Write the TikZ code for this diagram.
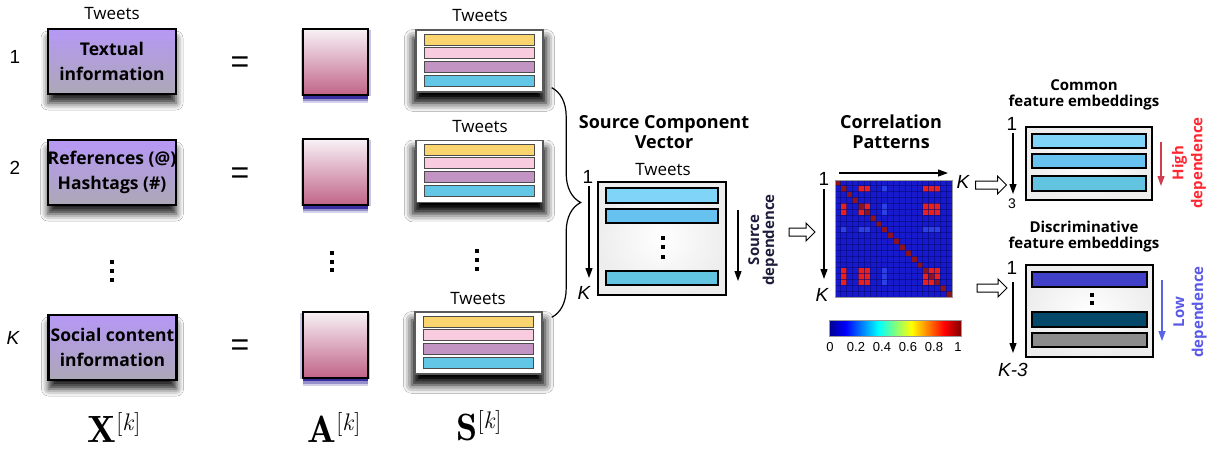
\documentclass[tikz,border=0pt]{standalone}
\usepackage[no-math]{fontspec}
\setmainfont{Open Sans}
\newfontfamily\hv{Liberation Sans}
\usetikzlibrary{arrows.meta,shadows.blur,shapes.arrows,decorations.pathreplacing,calc}

\definecolor{xtop}{RGB}{182,152,246}
\definecolor{xbot}{RGB}{172,168,182}
\definecolor{atop}{RGB}{248,242,246}
\definecolor{abot}{RGB}{192,100,136}
\definecolor{glow}{RGB}{36,24,150}
\definecolor{syel}{RGB}{250,212,110}
\definecolor{spnk}{RGB}{248,204,222}
\definecolor{spur}{RGB}{194,148,196}
\definecolor{sblu}{RGB}{98,198,230}
\definecolor{lb1}{RGB}{128,212,248}
\definecolor{lb2}{RGB}{104,194,240}
\definecolor{lb3}{RGB}{98,196,224}
\definecolor{db1}{RGB}{64,64,200}
\definecolor{db2}{RGB}{4,72,106}
\definecolor{db3}{RGB}{140,140,140}
\definecolor{mblue}{RGB}{22,26,204}
\definecolor{mlight}{RGB}{44,64,228}
\definecolor{mgrid}{RGB}{10,10,120}
\definecolor{mred}{RGB}{232,32,30}
\definecolor{mdark}{RGB}{140,20,30}
\definecolor{jdb}{RGB}{0,0,143}
\definecolor{jdr}{RGB}{128,0,0}
\definecolor{hired}{RGB}{255,40,50}
\definecolor{hiarr}{RGB}{208,60,80}
\definecolor{lowtxt}{RGB}{90,90,230}
\definecolor{lowarr}{RGB}{90,100,230}
\definecolor{srcdep}{RGB}{30,30,60}

% jet colour map (path shadings use the middle half of the declared width)
\pgfdeclarehorizontalshading{jet}{100bp}{color(0bp)=(jdb); color(25bp)=(jdb); color(31.25bp)=(blue); color(43.75bp)=(cyan); color(56.25bp)=(yellow); color(68.75bp)=(red); color(75bp)=(jdr); color(100bp)=(jdr)}

% bold letter with a bracketed superscript index
\newcommand{\blocksym}[1]{{\fontfamily{lmr}\selectfont\bfseries #1\raisebox{12pt}{\fontsize{24}{24}\selectfont\mdseries[\textit{k}]}}}

\begin{document}
\begin{tikzpicture}[x=1pt,y=-1pt,
  lbl/.style={font=\fontsize{17}{20}\selectfont, inner sep=0pt},
  num/.style={font=\hv\fontsize{19}{20}\selectfont, inner sep=0pt},
  knum/.style={font=\hv\itshape\fontsize{19}{20}\selectfont, inner sep=0pt},
  title/.style={font=\bfseries\fontsize{18}{20}\selectfont, align=center, inner sep=0pt},
  subtitle/.style={font=\bfseries\fontsize{15}{16}\selectfont, align=center, inner sep=0pt},
  sidetext/.style={font=\bfseries\fontsize{15}{15}\selectfont, align=center, inner sep=0pt, rotate=90},
  xbox/.style={draw=black, line width=2.4pt, top color=xtop, bottom color=xbot,
    minimum width=128pt, minimum height=65pt, inner sep=0pt, align=center,
    font=\bfseries\fontsize{17.5}{25}\selectfont,
    blur shadow={shadow xshift=0pt, shadow yshift=-9pt, shadow scale=1.0, shadow blur radius=7pt, shadow opacity=85}},
  abox/.style={draw=black, line width=2pt, top color=atop, bottom color=abot,
    minimum width=65pt, minimum height=66pt, inner sep=0pt,
    preaction={fill=glow, fill opacity=0.2, transform canvas={yshift=-8pt}},
    preaction={fill=glow, fill opacity=0.35, transform canvas={yshift=-6pt}},
    preaction={fill=glow, fill opacity=0.8, transform canvas={yshift=-3.5pt}},
    preaction={fill=glow, fill opacity=0.25, transform canvas={xshift=-2.5pt, yshift=-1pt}},
    preaction={fill=glow, fill opacity=0.25, transform canvas={xshift=2.5pt, yshift=-1pt}}},
  sbox/.style={draw=black!65, line width=1.4pt, fill=white,
    minimum width=127pt, minimum height=62pt, inner sep=0pt,
    blur shadow={shadow xshift=0pt, shadow yshift=-9pt, shadow scale=1.05, shadow blur radius=8pt, shadow opacity=100}},
  stripe/.style={draw=black!70, line width=0.9pt},
  bar/.style={draw=black, line width=2pt},
  frame/.style={draw=black, line width=2.4pt, inner color=white, outer color=black!7, inner sep=0pt},
  arr/.style={line width=1.2pt, -{Triangle[length=10pt,width=7pt]}},
  hollow/.style={single arrow, draw=black, line width=1pt, fill=white, minimum height=#1,
    single arrow head extend=5pt, single arrow head indent=0pt, inner xsep=0pt, inner ysep=3.5pt},
  vdot/.style={fill=black, minimum size=3.6pt, inner sep=0pt},
  eq/.style={font=\hv\fontsize{32}{32}\selectfont, inner sep=0pt},
  big/.style={font=\fontsize{38}{38}\selectfont, inner sep=0pt},
]
\useasboundingbox (0,0) rectangle (1216,452);
\fill[white] (0,0) rectangle (1216,452);

% ---------- data matrices X ----------
\node[lbl] (xtw) at (112,14) {Tweets};
\node[xbox] (x1) at (112,61.5) {Textual\\information};
\node[xbox] (x2) at (112,172.5) {References (@)\\Hashtags (\#)};
\node[xbox] (xk) at (112.5,347.5) {Social content\\information};
\node[num] (n1) at (15,57) {1};
\node[num] (n2) at (15,168) {2};
\node[knum] (nk) at (13,338) {K};

\node[eq] (e1) at (240,65) {=};
\node[eq] (e2) at (240,176) {=};
\node[eq] (ek) at (240,348) {=};

% ---------- mixing matrices A ----------
\node[abox] (a1) at (335.5,62) {};
\node[abox] (a2) at (335.5,172) {};
\node[abox] (ak) at (335,344.5) {};

% ---------- sources S ----------
\node[lbl] (stw1) at (480,16) {Tweets};
\node[lbl] (stw2) at (480,127) {Tweets};
\node[lbl] (stwk) at (478,299) {Tweets};
\node[sbox] (s1) at (479.5,61) {};
\node[sbox] (s2) at (479.5,171.5) {};
\node[sbox] (sk) at (478.5,343) {};
\foreach \b in {s1,s2,sk}{
  \foreach \c/\dy in {syel/5, spnk/18, spur/32, sblu/46}
    \draw[stripe, fill=\c] ($(\b.north west)+(9,\dy)$) rectangle ++(110,11);
}

% vertical ellipses
\foreach \y [count=\i] in {262,271,280} \node[vdot] (xd\i) at (112,\y) {};
\foreach \y [count=\i] in {253,262,270} \node[vdot] (ad\i) at (332,\y) {};
\foreach \y [count=\i] in {251,260,269} \node[vdot] (sd\i) at (477,\y) {};

% bottom symbols
\node[big] (lx) at (114,428) {\blocksym{X}};
\node[big] (la) at (334,428) {\blocksym{A}};
\node[big] (ls) at (479,426) {\blocksym{S}};

% brace gathering the sources
\coordinate (bt) at ($(s1.south east)+(8,-5)$);
\coordinate (bb) at ($(sk.north east)+(9,6)$);
\draw[line width=1.2pt, decorate, decoration={brace, amplitude=29pt}] (bt) -- (bt |- bb);

% ---------- source component vector ----------
\node[title] (sct) at (664,132) {Source Component\\Vector};
\node[lbl] (sctw) at (663,170) {Tweets};
\node[frame, minimum width=128pt, minimum height=113pt] (scv) at (662,238.5) {};
\draw[bar, fill=lb1] (606,188) rectangle (718,203);
\draw[bar, fill=lb2] (606,209) rectangle (718,223);
\draw[bar, fill=lb3] (606,271) rectangle (718,285);
\foreach \y [count=\i] in {238,247,257} \node[vdot] (cd\i) at (663,\y) {};
\node[num] (sc1) at (588,177) {1};
\node[knum] (scK) at (584,293) {K};
\coordinate (scA) at (589,186);
\coordinate (scB) at (589,278);
\draw[arr] (scA) -- (scB);
\coordinate (sdA) at (738,210);
\coordinate (sdB) at (738,281);
\draw[arr] (sdA) -- (sdB);
\node[sidetext, text=srcdep] (sdt) at (763,240) {Source\\dependence};

\node[hollow=26pt] (h1) at (800,232) {};

% ---------- correlation patterns ----------
\node[title] (cpt) at (891,132) {Correlation\\Patterns};
\node[minimum size=117pt, inner sep=0pt, fill=mblue] (mat) at (893.5,238.5) {};
\begin{scope}[shift={(mat.north west)}]
  \foreach \i in {1,4,5,15,16,17}{
    \fill[mlight] (8*5.85,\i*5.85) rectangle ++(5.85,5.85);
    \fill[mlight] (\i*5.85,8*5.85) rectangle ++(5.85,5.85);
    \foreach \j in {1,4,5,15,16,17}{
      \ifnum\i=\j\relax\else
        \fill[mred] (\j*5.85,\i*5.85) rectangle ++(5.85,5.85);
      \fi
    }
  }
  \foreach \k in {0,...,19}
    \fill[mdark] (\k*5.85,\k*5.85) rectangle ++(5.85,5.85);
  \foreach \k in {0,...,20}{
    \draw[mgrid, line width=0.35pt, opacity=0.6] (\k*5.85,0) -- (\k*5.85,117);
    \draw[mgrid, line width=0.35pt, opacity=0.6] (0,\k*5.85) -- (117,\k*5.85);
  }
\end{scope}
\draw[black!40, line width=0.4pt] (mat.north west) rectangle (mat.south east);
\node[num] (m1) at (824,179) {1};
\node[knum] (mK1) at (963,182) {K};
\node[knum] (mK2) at (822,295) {K};
\coordinate (mtA) at (839,173);
\coordinate (mtB) at (948,173);
\draw[arr] (mtA) -- (mtB);
\coordinate (mlA) at (824,189);
\coordinate (mlB) at (824,279);
\draw[arr] (mlA) -- (mlB);

% colour bar
\node[shade, shading=jet, draw=black!40, line width=0.4pt, minimum width=132pt, minimum height=16pt, inner sep=0pt] (cbar) at (895,328) {};
\foreach \v/\x in {0/830, 0.2/856, 0.4/882, 0.6/908, 0.8/934, 1/958}
  \node[font=\hv\fontsize{13}{13}\selectfont, inner sep=0pt] (cb\x) at (\x,347) {\v};

\node[hollow=31pt] (h2) at (989,185) {};
\node[hollow=30pt] (h3) at (990,288) {};

% ---------- common feature embeddings ----------
\node[subtitle] (cft) at (1084,95) {Common\\feature embeddings};
\node[frame, minimum width=126pt, minimum height=73pt] (cfb) at (1089,163.5) {};
\draw[bar, fill=lb1] (1032,134) rectangle (1146,148);
\draw[bar, fill=lb2] (1032,154) rectangle (1146,168);
\draw[bar, fill=lb3] (1032,176) rectangle (1146,191);
\node[num] (c1) at (1012,124) {1};
\node[font=\hv\fontsize{14}{14}\selectfont, inner sep=0pt] (c3) at (1012,204) {3};
\coordinate (clA) at (1013,133);
\coordinate (clB) at (1013,194);
\draw[arr] (clA) -- (clB);
\coordinate (crA) at (1161,142);
\coordinate (crB) at (1161,186);
\draw[arr, hiarr] (crA) -- (crB);
\node[sidetext, text=hired, font=\bfseries\fontsize{15}{19}\selectfont] (hdt) at (1189,163) {High\\dependence};

% ---------- discriminative feature embeddings ----------
\node[subtitle] (dft) at (1084,237) {Discriminative\\feature embeddings};
\node[frame, minimum width=127pt, minimum height=92pt] (dfb) at (1089.5,311) {};
\draw[bar, fill=db1] (1032,272) rectangle (1147,287);
\draw[bar, fill=db2] (1032,312) rectangle (1147,327);
\draw[bar, fill=db3] (1032,333) rectangle (1147,347);
\node[vdot, minimum size=4pt] (dd1) at (1092,295) {};
\node[vdot, minimum size=4pt] (dd2) at (1092,303) {};
\node[num] (d1) at (1012,268) {1};
\node[knum] (dK) at (1013,370) {K-3};
\coordinate (dlA) at (1013,282);
\coordinate (dlB) at (1013,353);
\draw[arr] (dlA) -- (dlB);
\coordinate (drA) at (1162,280);
\coordinate (drB) at (1162,341);
\draw[arr, lowarr] (drA) -- (drB);
\node[sidetext, text=lowtxt, font=\bfseries\fontsize{15}{19}\selectfont] (ldt) at (1190,312) {Low\\dependence};
\end{tikzpicture}
\end{document}
